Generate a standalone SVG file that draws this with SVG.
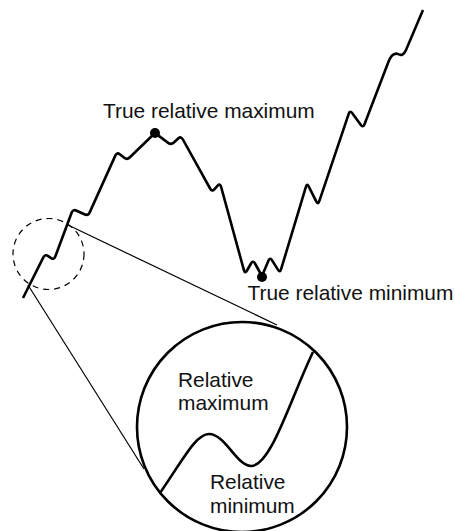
<svg xmlns="http://www.w3.org/2000/svg" width="455" height="531" viewBox="0 0 455 531">
<style>
.curve{fill:none;stroke:#000;stroke-width:2.6;stroke-linejoin:round;stroke-linecap:butt}
.thin{fill:none;stroke:#000;stroke-width:1.2}
.dash{fill:none;stroke:#000;stroke-width:1.2;stroke-dasharray:6 5}
.lbl{font-family:"Liberation Sans",Arial,Helvetica,sans-serif;font-size:20.9px;fill:#111}
.dot{fill:#000}
</style>
<rect width="455" height="531" fill="#fff"/>
<g id="connectors">
<line class="thin" x1="68" y1="225" x2="277" y2="325"/>
<line class="thin" x1="28" y1="285" x2="144" y2="469"/>
</g>
<g id="main-curve">
<path class="curve" d="M23,298 L43.2,257.6 Q45,254 47.9,255.9 L51.1,258.1 Q54,260 55.4,256.3 L71.6,212.7 Q73,209 76.6,210.7 L84.4,214.3 Q88,216 89.7,212.4 L115.3,155.6 Q117,152 119.7,154.2 L124.3,157.8 Q127,160 129.9,157.2 L152.1,135.8 Q155,133 158.2,135.4 L167.8,142.6 Q171,145 173.6,142.7 L178.4,138.3 Q181,136 182.9,139.5 L210.1,188.5 Q212,192 214.3,189.4 L217.7,185.6 Q220,183 221.1,186.9 L243.9,270.1 Q245,274 247,270.5 L251,263.5 Q253,260 255,263.5 L260,272.5 Q262,276 263.6,272.3 L268.4,260.7 Q270,257 272.1,260.4 L277.9,269.6 Q280,273 281.1,269.2 L305.9,186.8 Q307,183 308.8,186.6 L316.2,201.4 Q318,205 319.3,201.2 L348.7,113.8 Q350,110 352.3,113.2 L360.7,124.8 Q363,128 364.5,124.3 L388,63 Q392,52 398,54 Q403,57 406,50 L423,10"/>
</g>
<g id="true-max">
<circle class="dot" cx="155" cy="133" r="5"/>
<text class="lbl" x="103" y="117.5">True relative maximum</text>
</g>
<g id="true-min">
<circle class="dot" cx="262" cy="277" r="5"/>
<text class="lbl" x="247.5" y="300">True relative minimum</text>
</g>
<g id="zoom-region">
<circle class="dash" cx="48.5" cy="254" r="35.5"/>
</g>
<g id="magnifier">
<circle cx="242" cy="427" r="105" fill="none" stroke="#000" stroke-width="2.6"/>
<path class="curve" d="M160,493 C184,458 196,434 209,434 C225,434 237,466 251,466 C271,466 290,400 313,352"/>
</g>
<g id="rel-max">
<text class="lbl" x="178" y="386.5">Relative</text>
<text class="lbl" x="178" y="410">maximum</text>
</g>
<g id="rel-min">
<text class="lbl" x="210" y="488.5">Relative</text>
<text class="lbl" x="210" y="512.5">minimum</text>
</g>
</svg>
